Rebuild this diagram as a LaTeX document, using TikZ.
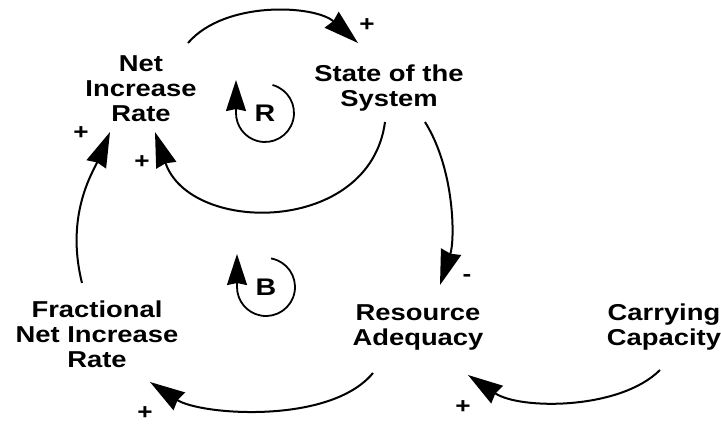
\documentclass[tikz,border=0pt]{standalone}
\usepackage{fontspec}
\setmainfont{Liberation Sans}[FakeStretch=1.19]
\usetikzlibrary{arrows.meta}
\begin{document}
\begin{tikzpicture}[x=1pt,y=-1pt,
  lbl/.style={font=\fontsize{23}{25}\selectfont\bfseries, align=center, inner sep=0pt},
  sgn/.style={font=\fontsize{22}{22}\selectfont\bfseries, inner sep=0pt},
  loopl/.style={font=\fontsize{24}{24}\selectfont\bfseries, inner sep=0pt},
  arr/.style={line width=2pt, -{Stealth[length=35pt,width=21pt,inset=2pt]}},
  looparr/.style={line width=1.8pt, -{Stealth[length=31pt,width=20pt,inset=2pt]}}]
\useasboundingbox[fill=white] (0,0) rectangle (721,426);

\node[lbl] (NIR) at (141,89) {Net\\Increase\\Rate};
\node[lbl] (SoS) at (389,88) {State of the\\System};
\node[lbl] (RA) at (418,327) {Resource\\Adequacy};
\node[lbl] (CC) at (664,327) {Carrying\\Capacity};
\node[lbl] (FNIR) at (97,334) {Fractional\\Net Increase\\Rate};
\node[loopl] (R) at (265,113) {R};
\node[loopl] (B) at (266,287) {B};

\draw[arr] ([shift={(47,-46)}]NIR.center) .. controls (225,0) and (315,5) .. ([shift={(-31,-45)}]SoS.center);
\draw[arr] ([shift={(-4,34)}]SoS.center) .. controls (370,235) and (190,235) .. ([shift={(14,43)}]NIR.center);
\draw[arr] ([shift={(36,34)}]SoS.center) .. controls (455,170) and (455,240) .. ([shift={(22,-42)}]RA.center);
\draw[arr] ([shift={(-45,46)}]RA.center) .. controls (330,425) and (200,415) .. ([shift={(53,48)}]FNIR.center);
\draw[arr] ([shift={(-4,43)}]CC.center) .. controls (620,410) and (520,410) .. ([shift={(50,48)}]RA.center);
\draw[arr] ([shift={(-15,-51)}]FNIR.center) .. controls (65,215) and (93,172) .. ([shift={(-31,43)}]NIR.center);

\draw[looparr] ([shift={(-75:29)}]R.center) arc[start angle=-75,end angle=180,radius=29] -- ++(0,-33);
\draw[looparr] ([shift={(-80:29)}]B.center) arc[start angle=-80,end angle=180,radius=29] -- ++(0,-33);

\node[sgn] (p1) at (367,25) {+};
\node[sgn] (p2) at (142,162) {+};
\node[sgn] (p3) at (81,133) {+};
\node[sgn] (m1) at (467,278) {-};
\node[sgn] (p4) at (145,413) {+};
\node[sgn] (p5) at (463,407) {+};
\end{tikzpicture}
\end{document}
